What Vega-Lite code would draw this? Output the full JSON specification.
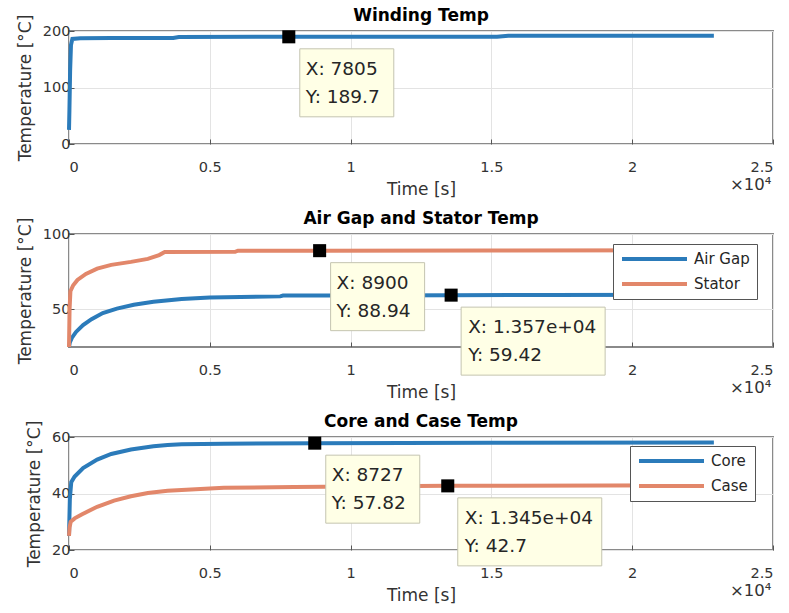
{
  "$schema": "https://vega.github.io/schema/vega-lite/v6.json",
  "background": "white",
  "padding": {"left": 15, "top": 6, "right": 4, "bottom": 2},
  "spacing": 10,
  "resolve": {"scale": {"color": "independent"}},
  "config": {
    "font": "DejaVu Sans",
    "view": {"stroke": "#8a8a8a", "strokeWidth": 2},
    "title": {"fontSize": 17, "fontWeight": "bold", "color": "#000000", "frame": "group", "offset": -11},
    "axis": {"grid": true, "gridColor": "#e3e3e3", "domain": false, "ticks": true, "tickColor": "#555555", "tickSize": -5, "labelFontSize": 14.5, "labelColor": "#333333", "titleFontSize": 17, "titleFontWeight": "normal", "titleColor": "#333333"},
    "axisX": {"labelPadding": 21, "titlePadding": 8},
    "axisY": {"labelPadding": 4, "titlePadding": 8},
    "legend": {"orient": "none", "direction": "vertical", "symbolType": "stroke", "symbolSize": 4225, "symbolStrokeWidth": 4, "clipHeight": 16, "labelFontSize": 15, "labelColor": "#262626", "labelOffset": 5, "rowPadding": 9, "padding": 7, "fillColor": "white", "strokeColor": "#555555", "zindex": 1}
  },
  "datasets": {
    "lines": [
      {"panel": 1, "series": "Winding", "t": 0, "temp": 25},
      {"panel": 1, "series": "Winding", "t": 15, "temp": 60},
      {"panel": 1, "series": "Winding", "t": 40, "temp": 130},
      {"panel": 1, "series": "Winding", "t": 70, "temp": 175},
      {"panel": 1, "series": "Winding", "t": 120, "temp": 186},
      {"panel": 1, "series": "Winding", "t": 400, "temp": 187},
      {"panel": 1, "series": "Winding", "t": 1500, "temp": 187.4},
      {"panel": 1, "series": "Winding", "t": 3700, "temp": 187.6},
      {"panel": 1, "series": "Winding", "t": 3900, "temp": 189.4},
      {"panel": 1, "series": "Winding", "t": 7805, "temp": 189.7},
      {"panel": 1, "series": "Winding", "t": 15200, "temp": 189.9},
      {"panel": 1, "series": "Winding", "t": 15600, "temp": 191.5},
      {"panel": 1, "series": "Winding", "t": 22900, "temp": 191.6},
      {"panel": 2, "series": "Air Gap", "t": 0, "temp": 25},
      {"panel": 2, "series": "Air Gap", "t": 30, "temp": 28},
      {"panel": 2, "series": "Air Gap", "t": 100, "temp": 31},
      {"panel": 2, "series": "Air Gap", "t": 250, "temp": 35},
      {"panel": 2, "series": "Air Gap", "t": 500, "temp": 39.5},
      {"panel": 2, "series": "Air Gap", "t": 800, "temp": 43.5},
      {"panel": 2, "series": "Air Gap", "t": 1200, "temp": 47.5},
      {"panel": 2, "series": "Air Gap", "t": 1700, "temp": 50.5},
      {"panel": 2, "series": "Air Gap", "t": 2300, "temp": 53},
      {"panel": 2, "series": "Air Gap", "t": 3000, "temp": 55},
      {"panel": 2, "series": "Air Gap", "t": 4000, "temp": 56.8},
      {"panel": 2, "series": "Air Gap", "t": 5000, "temp": 57.8},
      {"panel": 2, "series": "Air Gap", "t": 7500, "temp": 58.6},
      {"panel": 2, "series": "Air Gap", "t": 7600, "temp": 59.1},
      {"panel": 2, "series": "Air Gap", "t": 10000, "temp": 59.2},
      {"panel": 2, "series": "Air Gap", "t": 13570, "temp": 59.42},
      {"panel": 2, "series": "Air Gap", "t": 17000, "temp": 59.55},
      {"panel": 2, "series": "Air Gap", "t": 22900, "temp": 59.7},
      {"panel": 2, "series": "Stator", "t": 0, "temp": 25},
      {"panel": 2, "series": "Stator", "t": 20, "temp": 50},
      {"panel": 2, "series": "Stator", "t": 50, "temp": 62},
      {"panel": 2, "series": "Stator", "t": 150, "temp": 66},
      {"panel": 2, "series": "Stator", "t": 300, "temp": 69.5},
      {"panel": 2, "series": "Stator", "t": 600, "temp": 73.5},
      {"panel": 2, "series": "Stator", "t": 1000, "temp": 77},
      {"panel": 2, "series": "Stator", "t": 1500, "temp": 79.5},
      {"panel": 2, "series": "Stator", "t": 2200, "temp": 81.5},
      {"panel": 2, "series": "Stator", "t": 2800, "temp": 83.5},
      {"panel": 2, "series": "Stator", "t": 3200, "temp": 86},
      {"panel": 2, "series": "Stator", "t": 3400, "temp": 88},
      {"panel": 2, "series": "Stator", "t": 5900, "temp": 88.2},
      {"panel": 2, "series": "Stator", "t": 6000, "temp": 88.9},
      {"panel": 2, "series": "Stator", "t": 8900, "temp": 88.94},
      {"panel": 2, "series": "Stator", "t": 15000, "temp": 89.1},
      {"panel": 2, "series": "Stator", "t": 22900, "temp": 89.2},
      {"panel": 3, "series": "Core", "t": 0, "temp": 25},
      {"panel": 3, "series": "Core", "t": 30, "temp": 38},
      {"panel": 3, "series": "Core", "t": 80, "temp": 44},
      {"panel": 3, "series": "Core", "t": 200, "temp": 46},
      {"panel": 3, "series": "Core", "t": 500, "temp": 49},
      {"panel": 3, "series": "Core", "t": 1000, "temp": 52},
      {"panel": 3, "series": "Core", "t": 1500, "temp": 54},
      {"panel": 3, "series": "Core", "t": 2200, "temp": 55.6},
      {"panel": 3, "series": "Core", "t": 3000, "temp": 56.7},
      {"panel": 3, "series": "Core", "t": 3500, "temp": 57.2},
      {"panel": 3, "series": "Core", "t": 4000, "temp": 57.4},
      {"panel": 3, "series": "Core", "t": 5500, "temp": 57.6},
      {"panel": 3, "series": "Core", "t": 8727, "temp": 57.82},
      {"panel": 3, "series": "Core", "t": 15000, "temp": 57.95},
      {"panel": 3, "series": "Core", "t": 22900, "temp": 58.05},
      {"panel": 3, "series": "Case", "t": 0, "temp": 25},
      {"panel": 3, "series": "Case", "t": 20, "temp": 28},
      {"panel": 3, "series": "Case", "t": 60, "temp": 30},
      {"panel": 3, "series": "Case", "t": 200, "temp": 31.2},
      {"panel": 3, "series": "Case", "t": 450, "temp": 32.6},
      {"panel": 3, "series": "Case", "t": 1000, "temp": 35.3},
      {"panel": 3, "series": "Case", "t": 1600, "temp": 37.5},
      {"panel": 3, "series": "Case", "t": 2200, "temp": 39},
      {"panel": 3, "series": "Case", "t": 2800, "temp": 40.2},
      {"panel": 3, "series": "Case", "t": 3500, "temp": 41},
      {"panel": 3, "series": "Case", "t": 4500, "temp": 41.5},
      {"panel": 3, "series": "Case", "t": 5500, "temp": 42},
      {"panel": 3, "series": "Case", "t": 8000, "temp": 42.3},
      {"panel": 3, "series": "Case", "t": 13450, "temp": 42.7},
      {"panel": 3, "series": "Case", "t": 22900, "temp": 42.9}
    ],
    "tips": [
      {"panel": 1, "kind": "short", "t": 7805, "temp": 189.7, "lx": "X: 7805", "ly": "Y: 189.7"},
      {"panel": 2, "kind": "short", "t": 8900, "temp": 88.94, "lx": "X: 8900", "ly": "Y: 88.94"},
      {"panel": 2, "kind": "long", "t": 13570, "temp": 59.42, "lx": "X: 1.357e+04", "ly": "Y: 59.42"},
      {"panel": 3, "kind": "short", "t": 8727, "temp": 57.82, "lx": "X: 8727", "ly": "Y: 57.82"},
      {"panel": 3, "kind": "long", "t": 13450, "temp": 42.7, "lx": "X: 1.345e+04", "ly": "Y: 42.7"}
    ],
    "exponent": [
      {"panel": 1, "t": 25000, "temp": 0, "label": "×10⁴"},
      {"panel": 2, "t": 25000, "temp": 25, "label": "×10⁴"},
      {"panel": 3, "t": 25000, "temp": 20, "label": "×10⁴"}
    ]
  },
  "vconcat": [
    {
      "width": 704, "height": 113,
      "title": "Winding Temp",
      "encoding": {
        "x": {"field": "t", "type": "quantitative", "scale": {"domain": [0, 25000], "nice": false}, "axis": {"values": [0, 5000, 10000, 15000, 20000, 25000], "labelExpr": "format(datum.value/10000, '~g')", "title": "Time [s]"}},
        "y": {"field": "temp", "type": "quantitative", "scale": {"domain": [0, 200], "nice": false}, "axis": {"values": [0, 100, 200], "title": "Temperature [°C]"}}
      },
      "layer": [
        {"data": {"name": "lines"}, "transform": [{"filter": "datum.panel == 1"}], "mark": {"type": "line", "strokeWidth": 4, "color": "#2B7BBA"}},
        {"data": {"name": "tips"}, "transform": [{"filter": "datum.panel == 1 && datum.kind == 'short'"}], "mark": {"type": "rect", "fill": "#FFFFE6", "stroke": "#C4C4B0", "strokeWidth": 1, "xOffset": 11, "x2Offset": 105, "yOffset": 12, "y2Offset": 80}, "encoding": {"x2": {"field": "t"}, "y2": {"field": "temp"}}},
        {"data": {"name": "tips"}, "transform": [{"filter": "datum.panel == 1"}], "mark": {"type": "text", "align": "left", "baseline": "alphabetic", "dx": 17, "dy": 38, "fontSize": 18.5, "color": "#262626"}, "encoding": {"text": {"field": "lx"}}},
        {"data": {"name": "tips"}, "transform": [{"filter": "datum.panel == 1"}], "mark": {"type": "text", "align": "left", "baseline": "alphabetic", "dx": 17, "dy": 66, "fontSize": 18.5, "color": "#262626"}, "encoding": {"text": {"field": "ly"}}},
        {"data": {"name": "tips"}, "transform": [{"filter": "datum.panel == 1"}], "mark": {"type": "point", "shape": "square", "filled": true, "color": "#000000", "size": 170, "opacity": 1}},
        {"data": {"name": "exponent"}, "transform": [{"filter": "datum.panel == 1"}], "mark": {"type": "text", "align": "left", "baseline": "alphabetic", "dx": -43, "dy": 46, "fontSize": 16.5, "color": "#333333"}, "encoding": {"text": {"field": "label"}}}
      ]
    },
    {
      "width": 704, "height": 113,
      "title": "Air Gap and Stator Temp",
      "encoding": {
        "x": {"field": "t", "type": "quantitative", "scale": {"domain": [0, 25000], "nice": false}, "axis": {"values": [0, 5000, 10000, 15000, 20000, 25000], "labelExpr": "format(datum.value/10000, '~g')", "title": "Time [s]"}},
        "y": {"field": "temp", "type": "quantitative", "scale": {"domain": [25, 100], "nice": false, "zero": false}, "axis": {"values": [50, 100], "title": "Temperature [°C]"}}
      },
      "layer": [
        {"data": {"name": "lines"}, "transform": [{"filter": "datum.panel == 2"}], "mark": {"type": "line", "strokeWidth": 4},
         "encoding": {"color": {"field": "series", "type": "nominal", "scale": {"domain": ["Air Gap", "Stator"], "range": ["#2B7BBA", "#E2876A"]}, "legend": {"title": null, "legendX": 544, "legendY": 10}}}},
        {"data": {"name": "tips"}, "transform": [{"filter": "datum.panel == 2 && datum.kind == 'short'"}], "mark": {"type": "rect", "fill": "#FFFFE6", "stroke": "#C4C4B0", "strokeWidth": 1, "xOffset": 11, "x2Offset": 105, "yOffset": 12, "y2Offset": 80}, "encoding": {"x2": {"field": "t"}, "y2": {"field": "temp"}}},
        {"data": {"name": "tips"}, "transform": [{"filter": "datum.panel == 2 && datum.kind == 'long'"}], "mark": {"type": "rect", "fill": "#FFFFE6", "stroke": "#C4C4B0", "strokeWidth": 1, "xOffset": 10, "x2Offset": 154, "yOffset": 12, "y2Offset": 80}, "encoding": {"x2": {"field": "t"}, "y2": {"field": "temp"}}},
        {"data": {"name": "tips"}, "transform": [{"filter": "datum.panel == 2"}], "mark": {"type": "text", "align": "left", "baseline": "alphabetic", "dx": 17, "dy": 38, "fontSize": 18.5, "color": "#262626"}, "encoding": {"text": {"field": "lx"}}},
        {"data": {"name": "tips"}, "transform": [{"filter": "datum.panel == 2"}], "mark": {"type": "text", "align": "left", "baseline": "alphabetic", "dx": 17, "dy": 66, "fontSize": 18.5, "color": "#262626"}, "encoding": {"text": {"field": "ly"}}},
        {"data": {"name": "tips"}, "transform": [{"filter": "datum.panel == 2"}], "mark": {"type": "point", "shape": "square", "filled": true, "color": "#000000", "size": 170, "opacity": 1}},
        {"data": {"name": "exponent"}, "transform": [{"filter": "datum.panel == 2"}], "mark": {"type": "text", "align": "left", "baseline": "alphabetic", "dx": -43, "dy": 46, "fontSize": 16.5, "color": "#333333"}, "encoding": {"text": {"field": "label"}}}
      ]
    },
    {
      "width": 704, "height": 113,
      "title": "Core and Case Temp",
      "encoding": {
        "x": {"field": "t", "type": "quantitative", "scale": {"domain": [0, 25000], "nice": false}, "axis": {"values": [0, 5000, 10000, 15000, 20000, 25000], "labelExpr": "format(datum.value/10000, '~g')", "title": "Time [s]"}},
        "y": {"field": "temp", "type": "quantitative", "scale": {"domain": [20, 60], "nice": false, "zero": false}, "axis": {"values": [20, 40, 60], "title": "Temperature [°C]"}}
      },
      "layer": [
        {"data": {"name": "lines"}, "transform": [{"filter": "datum.panel == 3"}], "mark": {"type": "line", "strokeWidth": 4},
         "encoding": {"color": {"field": "series", "type": "nominal", "scale": {"domain": ["Core", "Case"], "range": ["#2B7BBA", "#E2876A"]}, "legend": {"title": null, "legendX": 561, "legendY": 9}}}},
        {"data": {"name": "tips"}, "transform": [{"filter": "datum.panel == 3 && datum.kind == 'short'"}], "mark": {"type": "rect", "fill": "#FFFFE6", "stroke": "#C4C4B0", "strokeWidth": 1, "xOffset": 11, "x2Offset": 105, "yOffset": 12, "y2Offset": 80}, "encoding": {"x2": {"field": "t"}, "y2": {"field": "temp"}}},
        {"data": {"name": "tips"}, "transform": [{"filter": "datum.panel == 3 && datum.kind == 'long'"}], "mark": {"type": "rect", "fill": "#FFFFE6", "stroke": "#C4C4B0", "strokeWidth": 1, "xOffset": 10, "x2Offset": 154, "yOffset": 12, "y2Offset": 80}, "encoding": {"x2": {"field": "t"}, "y2": {"field": "temp"}}},
        {"data": {"name": "tips"}, "transform": [{"filter": "datum.panel == 3"}], "mark": {"type": "text", "align": "left", "baseline": "alphabetic", "dx": 17, "dy": 38, "fontSize": 18.5, "color": "#262626"}, "encoding": {"text": {"field": "lx"}}},
        {"data": {"name": "tips"}, "transform": [{"filter": "datum.panel == 3"}], "mark": {"type": "text", "align": "left", "baseline": "alphabetic", "dx": 17, "dy": 66, "fontSize": 18.5, "color": "#262626"}, "encoding": {"text": {"field": "ly"}}},
        {"data": {"name": "tips"}, "transform": [{"filter": "datum.panel == 3"}], "mark": {"type": "point", "shape": "square", "filled": true, "color": "#000000", "size": 170, "opacity": 1}},
        {"data": {"name": "exponent"}, "transform": [{"filter": "datum.panel == 3"}], "mark": {"type": "text", "align": "left", "baseline": "alphabetic", "dx": -43, "dy": 46, "fontSize": 16.5, "color": "#333333"}, "encoding": {"text": {"field": "label"}}}
      ]
    }
  ]
}
